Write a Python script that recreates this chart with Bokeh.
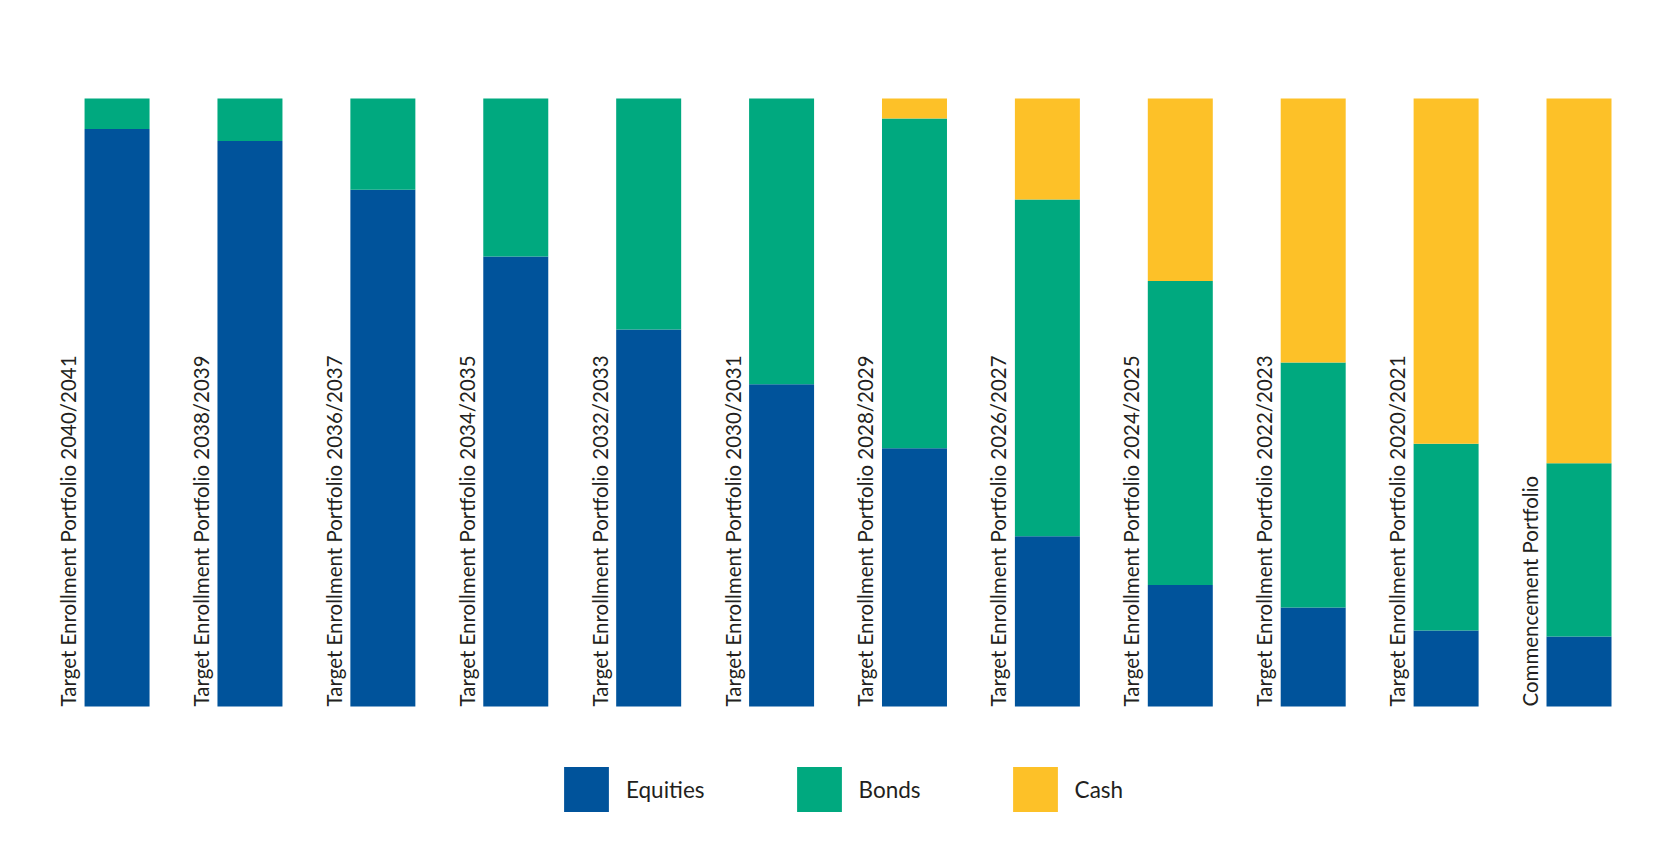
import math
from bokeh.plotting import figure
from bokeh.models import ColumnDataSource, Range1d, Legend, LegendItem
from bokeh.core.properties import value
from bokeh.embed import file_html
from bokeh.resources import INLINE

portfolios = [
    "Target Enrollment Portfolio 2040/2041",
    "Target Enrollment Portfolio 2038/2039",
    "Target Enrollment Portfolio 2036/2037",
    "Target Enrollment Portfolio 2034/2035",
    "Target Enrollment Portfolio 2032/2033",
    "Target Enrollment Portfolio 2030/2031",
    "Target Enrollment Portfolio 2028/2029",
    "Target Enrollment Portfolio 2026/2027",
    "Target Enrollment Portfolio 2024/2025",
    "Target Enrollment Portfolio 2022/2023",
    "Target Enrollment Portfolio 2020/2021",
    "Commencement Portfolio",
]
equities = [95, 93, 85, 74, 62, 53, 42.5, 28, 20, 16.3, 12.5, 11.5]
bonds = [5, 7, 15, 26, 38, 47, 54.2, 55.4, 50, 40.3, 30.7, 28.5]
cash = [0, 0, 0, 0, 0, 0, 3.3, 16.6, 30, 43.4, 56.8, 60]
series_names = ["Equities", "Bonds", "Cash"]
colors = ["#00539b", "#00a97f", "#fdc128"]

W, H = 1654, 844
x_idx = list(range(len(portfolios)))
eq_top = [e for e in equities]
bo_top = [e + b for e, b in zip(equities, bonds)]
ca_top = [e + b + c for e, b, c in zip(equities, bonds, cash)]

src = ColumnDataSource(dict(
    x=x_idx, name=portfolios,
    eq0=[0] * len(x_idx), eq1=eq_top,
    bo0=eq_top, bo1=bo_top,
    ca0=bo_top, ca1=ca_top,
    zero=[0] * len(x_idx),
))

p = figure(width=W, height=H, output_backend="svg", toolbar_location=None,
           x_range=Range1d(-0.877, 11.568), y_range=Range1d(-22.69, 116.12),
           min_border=0, outline_line_color=None, background_fill_color="white",
           border_fill_color="white")
p.xaxis.visible = False
p.yaxis.visible = False
p.grid.visible = False

bw = 0.489
r_eq = p.vbar(x="x", bottom="eq0", top="eq1", width=bw, source=src,
              fill_color=colors[0], line_color=None)
r_bo = p.vbar(x="x", bottom="bo0", top="bo1", width=bw, source=src,
              fill_color=colors[1], line_color=None)
r_ca = p.vbar(x="x", bottom="ca0", top="ca1", width=bw, source=src,
              fill_color=colors[2], line_color=None)

p.text(x="x", y="zero", text="name", source=src, angle=math.pi / 2,
       x_offset=-37, text_align="left", text_baseline="bottom",
       text_font=value("Lato"), text_font_size="20.5px", text_color="#231f20")

legend = Legend(items=[
    LegendItem(label=series_names[0], renderers=[r_eq]),
    LegendItem(label=series_names[1], renderers=[r_bo]),
    LegendItem(label=series_names[2], renderers=[r_ca]),
], orientation="horizontal", location=(558, 27),
    glyph_width=56, glyph_height=56, label_standoff=12, spacing=86,
    label_text_font="Lato", label_text_font_size="22.5px", label_text_color="#231f20",
    border_line_color=None, background_fill_alpha=0, padding=0, margin=0)
p.add_layout(legend, "center")

open("out.html", "w").write(file_html(p, INLINE))
